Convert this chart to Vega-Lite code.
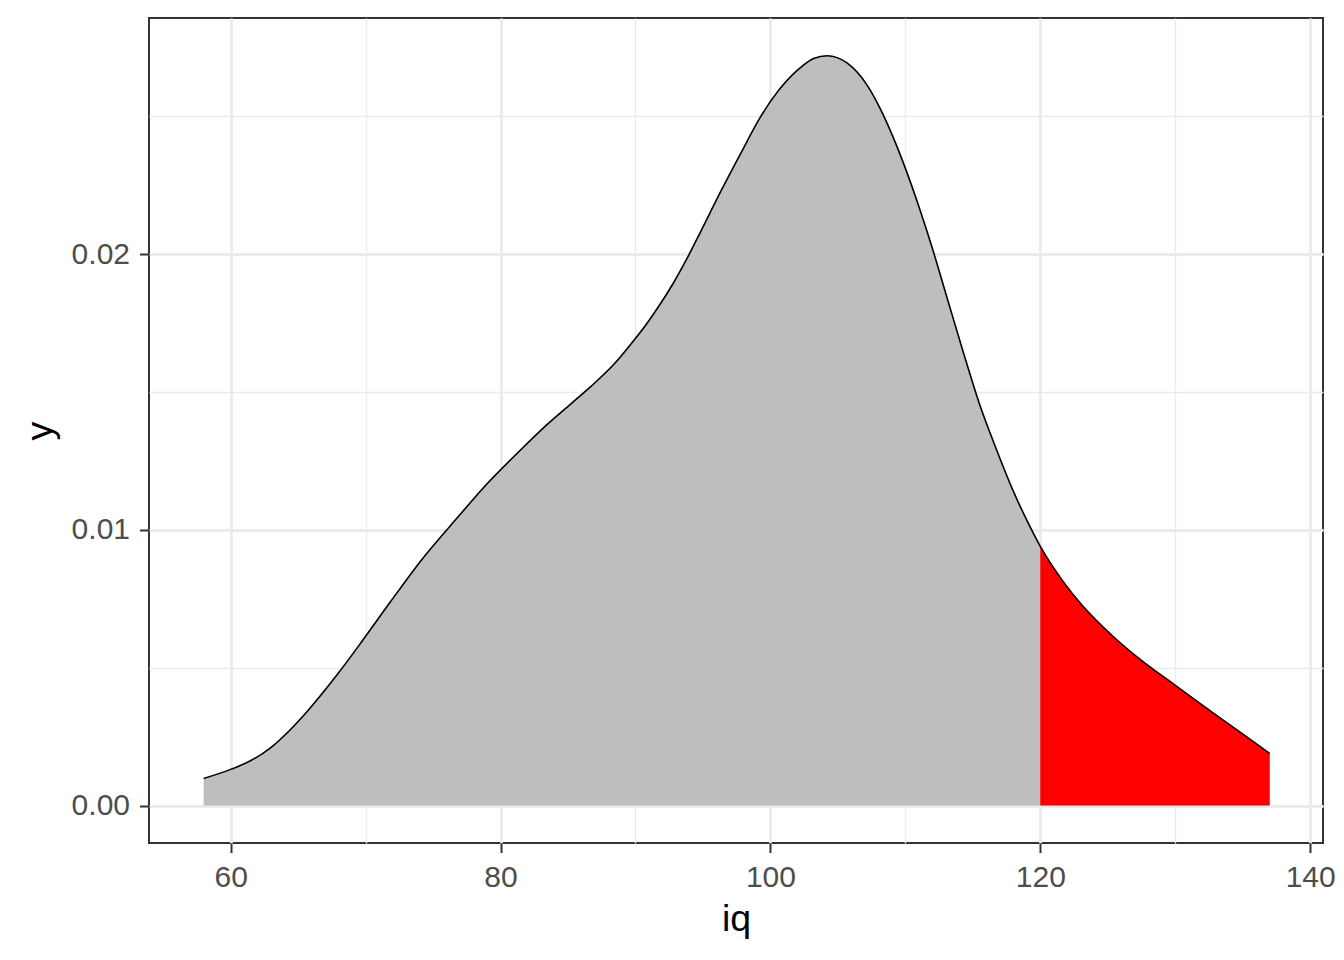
{
  "$schema": "https://vega.github.io/schema/vega-lite/v6.json",
  "width": 1174,
  "height": 825,
  "autosize": {"type": "none"},
  "padding": {"left": 149, "top": 18, "right": 21, "bottom": 117},
  "background": "white",
  "config": {
    "view": {"stroke": "#333333", "strokeWidth": 2},
    "font": "Liberation Sans"
  },
  "data": {
    "values": [
      {"iq": 58.0, "y": 0.00098},
      {"iq": 60.0, "y": 0.00131},
      {"iq": 61.5, "y": 0.00163},
      {"iq": 63.0, "y": 0.00211},
      {"iq": 64.4, "y": 0.00274},
      {"iq": 65.7, "y": 0.00343},
      {"iq": 67.9, "y": 0.00475},
      {"iq": 69.8, "y": 0.00600},
      {"iq": 71.8, "y": 0.00736},
      {"iq": 74.1, "y": 0.00888},
      {"iq": 77.0, "y": 0.01055},
      {"iq": 78.5, "y": 0.01140},
      {"iq": 81.5, "y": 0.01290},
      {"iq": 83.5, "y": 0.01384},
      {"iq": 85.2, "y": 0.01456},
      {"iq": 86.7, "y": 0.01520},
      {"iq": 88.4, "y": 0.01600},
      {"iq": 89.8, "y": 0.01682},
      {"iq": 90.9, "y": 0.01752},
      {"iq": 91.8, "y": 0.01816},
      {"iq": 92.8, "y": 0.01894},
      {"iq": 93.8, "y": 0.01982},
      {"iq": 94.8, "y": 0.02078},
      {"iq": 96.3, "y": 0.02225},
      {"iq": 97.8, "y": 0.02365},
      {"iq": 99.2, "y": 0.02492},
      {"iq": 100.7, "y": 0.02599},
      {"iq": 102.2, "y": 0.02675},
      {"iq": 103.2, "y": 0.02709},
      {"iq": 104.2, "y": 0.02719},
      {"iq": 105.7, "y": 0.02692},
      {"iq": 107.2, "y": 0.02610},
      {"iq": 108.1, "y": 0.02531},
      {"iq": 109.1, "y": 0.02423},
      {"iq": 110.1, "y": 0.02298},
      {"iq": 111.1, "y": 0.02158},
      {"iq": 112.0, "y": 0.02021},
      {"iq": 113.1, "y": 0.01840},
      {"iq": 114.3, "y": 0.01643},
      {"iq": 115.5, "y": 0.01455},
      {"iq": 116.8, "y": 0.01285},
      {"iq": 118.0, "y": 0.01140},
      {"iq": 119.2, "y": 0.01015},
      {"iq": 120.0, "y": 0.00940},
      {"iq": 121.7, "y": 0.00812},
      {"iq": 123.1, "y": 0.00726},
      {"iq": 125.4, "y": 0.00613},
      {"iq": 127.4, "y": 0.00530},
      {"iq": 130.0, "y": 0.00436},
      {"iq": 132.8, "y": 0.00336},
      {"iq": 135.3, "y": 0.00249},
      {"iq": 137.0, "y": 0.00189}
    ]
  },
  "layer": [
    {
      "mark": {"type": "area", "color": "#BEBEBE", "interpolate": "monotone"},
      "encoding": {
        "x": {
          "field": "iq", "type": "quantitative",
          "scale": {"domain": [53.95, 140.95], "nice": false, "zero": false},
          "axis": {
            "orient": "bottom", "values": [70, 90, 110, 130],
            "grid": true, "gridColor": "#EBEBEB", "gridWidth": 1.4,
            "labels": false, "ticks": false, "domain": false, "title": null
          }
        },
        "y": {
          "field": "y", "type": "quantitative", "stack": null,
          "scale": {"domain": [-0.00136, 0.02856], "nice": false, "zero": false},
          "axis": {
            "orient": "left", "values": [0.005, 0.015, 0.025],
            "grid": true, "gridColor": "#EBEBEB", "gridWidth": 1.4,
            "labels": false, "ticks": false, "domain": false, "title": null
          }
        },
        "y2": {"datum": 0}
      }
    },
    {
      "transform": [{"filter": "datum.iq >= 120"}],
      "mark": {"type": "area", "color": "#FF0000", "interpolate": "monotone"},
      "encoding": {
        "x": {
          "field": "iq", "type": "quantitative",
          "axis": {
            "orient": "bottom", "values": [60, 80, 100, 120, 140],
            "grid": true, "gridColor": "#EBEBEB", "gridWidth": 2.8,
            "domain": false, "ticks": true, "tickColor": "#333333", "tickWidth": 2, "tickSize": 9.5,
            "labelFont": "Liberation Sans", "labelFontSize": 30, "labelColor": "#4D4D4D",
            "labelPadding": 10, "labelFlush": false, "labelOverlap": false,
            "title": "iq", "titleFont": "Liberation Sans", "titleFontSize": 37.5,
            "titleColor": "#000000", "titleFontWeight": "normal", "titlePadding": 8
          }
        },
        "y": {
          "field": "y", "type": "quantitative", "stack": null,
          "axis": {
            "orient": "left", "values": [0, 0.01, 0.02], "format": ".2f",
            "grid": true, "gridColor": "#EBEBEB", "gridWidth": 2.8,
            "domain": false, "ticks": true, "tickColor": "#333333", "tickWidth": 2, "tickSize": 9.5,
            "labelFont": "Liberation Sans", "labelFontSize": 30, "labelColor": "#4D4D4D",
            "labelPadding": 10, "labelFlush": false, "labelOverlap": false,
            "title": "y", "titleFont": "Liberation Sans", "titleFontSize": 37.5,
            "titleColor": "#000000", "titleFontWeight": "normal", "titlePadding": 12
          }
        },
        "y2": {"datum": 0}
      }
    },
    {
      "mark": {"type": "line", "color": "#000000", "strokeWidth": 1.6, "interpolate": "monotone"},
      "encoding": {
        "x": {"field": "iq", "type": "quantitative", "axis": null},
        "y": {"field": "y", "type": "quantitative", "axis": null}
      }
    }
  ],
  "resolve": {"axis": {"x": "independent", "y": "independent"}}
}
